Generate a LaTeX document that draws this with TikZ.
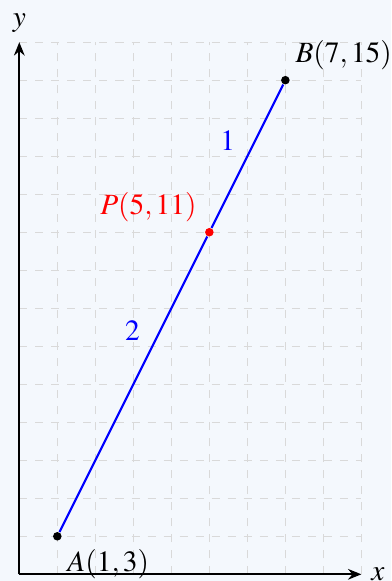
\documentclass[tikz,border=0pt]{standalone}
\usepackage{mathptmx}
\usepackage{xcolor}
\usepackage{tikz}
\usetikzlibrary{positioning,arrows.meta}
\definecolor{paperbg}{RGB}{244,248,253}

\begin{document}
\begin{tikzpicture}[x=0.5cm, y=0.5cm,
  every node/.style={font=\fontsize{11}{13}\selectfont},
  gridline/.style={gray!30, dashed, thin},
  axisline/.style={thick, -{Stealth[length=5pt, width=4pt]}},
  dotpt/.style={circle, fill, inner sep=0pt, minimum size=3.2pt}]
  % Background
  \fill[paperbg] (-0.508,1.824) rectangle (9.78,17.11);
  \useasboundingbox (-0.508,1.824) rectangle (9.78,17.11);

  % Grid
  \foreach \i in {1,...,9} \draw[gridline] (\i,2) -- (\i,16);
  \foreach \j in {3,...,16} \draw[gridline] (0,\j) -- (9,\j);

  % Axes
  \coordinate (O) at (0,2);
  \coordinate (xend) at (9,2);
  \coordinate (yend) at (0,16);
  \draw[axisline] (O) -- (xend) node[right=3.3pt, inner sep=0pt] (xlab) {$x$};
  \draw[axisline] (O) -- (yend) node[above] (ylab) {$y$};

  % Points and segment
  \node[dotpt] (A) at (1,3) {};
  \node[dotpt, red] (P) at (5,11) {};
  \node[dotpt] (B) at (7,15) {};
  \draw[blue, thick] (A) -- (P) -- (B);

  % Labels
  \node[below right=0pt and -1pt of A] (Alab) {$A(1,3)$};
  \node[above right=-1pt and -1pt of B] (Blab) {$B(7,15)$};
  \node[above left=-1pt and 0pt of P, red] (Plab) {$P(5,11)$};
  \path (A) -- (P) node[pos=0.68, left=4pt, text=blue] (two) {$2$};
  \path (P) -- (B) node[pos=0.61, left=4pt, text=blue] (one) {$1$};
\end{tikzpicture}
\end{document}
